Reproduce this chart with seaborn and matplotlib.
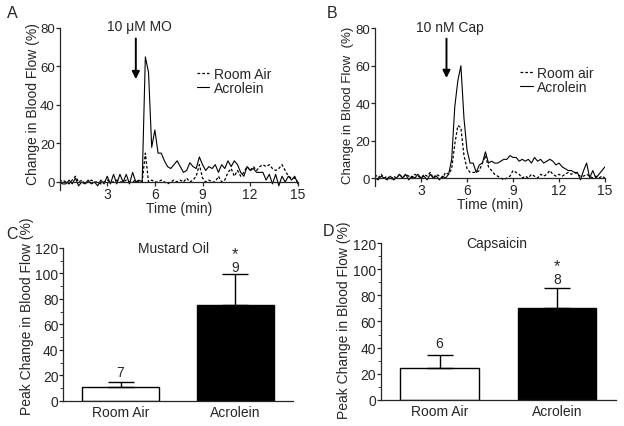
import numpy as np
import pandas as pd
import matplotlib
matplotlib.use("Agg")
import matplotlib.pyplot as plt
import seaborn as sns

# Curvas temporales (min, % de cambio), leidas a ojo de la figura
tiempo = [0.0, 0.2, 0.4, 0.6, 0.8, 1.0, 1.2, 1.4, 1.6, 1.8, 2.0, 2.2, 2.4, 2.6, 2.8,
          3.0, 3.2, 3.4, 3.6, 3.8, 4.0, 4.2, 4.4, 4.6, 4.8, 5.0, 5.2, 5.4, 5.6, 5.8,
          6.0, 6.2, 6.4, 6.6, 6.8, 7.0, 7.2, 7.4, 7.6, 7.8, 8.0, 8.2, 8.4, 8.6, 8.8,
          9.0, 9.2, 9.4, 9.6, 9.8, 10.0, 10.2, 10.4, 10.6, 10.8, 11.0, 11.2, 11.4, 11.6, 11.8,
          12.0, 12.2, 12.4, 12.6, 12.8, 13.0, 13.2, 13.4, 13.6, 13.8, 14.0, 14.2, 14.4, 14.6, 14.8,
          15.0]

mo_acroleina = [0, -1, -1, 1, -1, 2, -2, 0, -1, 1, -1, 0, -2, 1, -1,
                3, -1, 4, -1, 4, 0, 4, -1, 5, 0, 1, 0, 65, 57, 18,
                27, 15, 15, 11, 8, 7, 9, 11, 8, 5, 6, 10, 8, 7, 13,
                9, 6, 8, 7, 9, 5, 9, 7, 11, 8, 11, 9, 5, 3, 8,
                6, 7, 5, 5, 5, 1, 4, -1, 4, -2, 3, 0, 3, 1, 3,
                -1]
mo_aire = [0, 1, 0, -1, 1, 3, 0, 1, -1, 0, 1, 0, 0, -1, 0,
           1, 0, 0, 1, 0, 0, 1, 0, 0, 1, 0, 0, 15, 0, 1,
           0, 0, 1, 0, -1, 0, 1, 0, 1, 0, 2, 0, 1, 3, 9,
           2, 0, 1, 0, 0, 3, 0, 1, 5, 7, 3, 6, 3, 5, 8,
           6, 8, 6, 8, 9, 8, 9, 7, 6, 7, 9, 6, 3, 2, 2,
           0]
cap_acroleina = [0, -1, 1, 0, -1, 1, -1, 0, 2, 0, 2, -1, 1, 0, 2,
                 0, 1, -1, 2, 0, 1, -1, 1, 0, 2, 10, 38, 52, 60, 32,
                 15, 8, 8, 3, 7, 8, 14, 8, 9, 8, 8, 9, 10, 10, 12,
                 11, 11, 9, 10, 9, 10, 8, 11, 9, 10, 8, 9, 10, 9, 7,
                 8, 6, 5, 4, 4, 3, 3, -1, 4, 8, 0, 4, 0, 2, 4,
                 6]
cap_aire = [2, 0, 2, 0, 1, -1, 1, 0, 2, 0, 2, 1, 0, 2, 1,
            0, 2, 1, 3, 0, 2, 1, 0, 3, 2, 5, 18, 28, 27, 12,
            5, 3, 3, 3, 4, 8, 12, 6, 4, 2, 1, 0, -1, 0, 1,
            4, 3, 2, 0, 1, 0, 2, 1, 0, 2, 1, 2, 4, 2, 1,
            2, 1, 2, 3, 2, 3, 2, 1, 1, 2, 1, 0, 1, 0, 1,
            0]

# Picos promedio (media + EEM) y n por grupo
grupos = ['Room Air', 'Acrolein']
pico_mo = [11, 75.5]
eem_mo = [3.5, 24]
n_mo = ['7', '9']
pico_cap = [24, 70.5]
eem_cap = [10, 15.5]
n_cap = ['6', '8']

sns.set_style("ticks")
plt.rcParams['font.family'] = ['Liberation Sans', 'DejaVu Sans']
plt.rcParams['font.size'] = 10
plt.rcParams['axes.linewidth'] = 0.9
plt.rcParams['xtick.major.width'] = 0.9
plt.rcParams['ytick.major.width'] = 0.9

fig = plt.figure(figsize=(6.24, 4.27), dpi=100)

ax_a = fig.add_axes([0.0954, 0.5534, 0.382, 0.3787])
ax_b = fig.add_axes([0.601, 0.5632, 0.3686, 0.368])
ax_c = fig.add_axes([0.1014, 0.0593, 0.3676, 0.3576])
ax_d = fig.add_axes([0.6101, 0.0616, 0.377, 0.3663])

punteado = (0, (2.2, 1.6))


def panel_tiempo(ax, aire, acro, etiqueta_aire, texto, x_flecha, leg_x, ylab,
                 ylab_xy, ylab_fs):
    sns.lineplot(x=tiempo, y=aire, ax=ax, color='black', lw=0.9,
                 linestyle=punteado, label=etiqueta_aire)
    sns.lineplot(x=tiempo, y=acro, ax=ax, color='black', lw=0.8,
                 label='Acrolein')
    ax.set_xlim(0, 15)
    ax.set_ylim(-4, 80)
    ax.spines['bottom'].set_position(('data', 0))
    ax.spines['top'].set_visible(False)
    ax.spines['right'].set_visible(False)
    ax.set_xticks([3, 6, 9, 12, 15])
    ax.set_yticks([0, 20, 40, 60, 80])
    ax.tick_params(axis='x', length=3, labelsize=10, pad=0.5)
    ax.tick_params(axis='y', length=3, labelsize=9.5, pad=0.5)
    ax.set_xlabel('Time (min)', fontsize=10, labelpad=0)
    ax.set_ylabel(ylab, fontsize=ylab_fs, va='center')
    ax.yaxis.set_label_coords(*ylab_xy)
    ax.annotate('', xy=(x_flecha, 52), xytext=(x_flecha, 76),
                arrowprops=dict(arrowstyle='-|>', color='black', lw=1.4,
                                mutation_scale=11), annotation_clip=False)
    ax.text(x_flecha + 0.2, 81, texto, ha='center', va='center', fontsize=10,
            clip_on=False)
    ax.legend(loc='center left', bbox_to_anchor=(leg_x, 0.67), frameon=False,
              handlelength=0.9, handletextpad=0.3, labelspacing=0.0,
              fontsize=10, borderaxespad=0)


panel_tiempo(ax_a, mo_aire, mo_acroleina, 'Room Air', '10 \u03bcM MO', 4.8, 0.553,
             'Change in Blood Flow (%)', (-0.112, 0.536), 10)
panel_tiempo(ax_b, cap_aire, cap_acroleina, 'Room air', '10 nM Cap', 4.66, 0.6065,
             'Change in Blood Flow  (%)', (-0.118, 0.515), 9.5)


def panel_barras(ax, picos, eems, ns, titulo, y_n, y_star, x_tit, ylab_xy):
    df = pd.DataFrame({'grupo': grupos, 'pico': picos})
    sns.barplot(data=df, x='grupo', y='pico', hue='grupo',
                palette=['white', 'black'], edgecolor='black', linewidth=1.0,
                width=0.667, legend=False, ax=ax)
    ax.errorbar([0, 1], picos, yerr=[[0, 0], eems], fmt='none',
                ecolor='black', elinewidth=1.0, capsize=9.5, capthick=1.0)
    ax.set_xlim(-0.5, 1.5)
    ax.set_ylim(0, 120)
    ax.set_yticks([0, 20, 40, 60, 80, 100, 120])
    ax.set_yticks(np.arange(10, 120, 20), minor=True)
    ax.tick_params(axis='y', which='major', length=3, labelsize=10, pad=0.5)
    ax.tick_params(axis='y', which='minor', length=2)
    ax.tick_params(axis='x', length=0, labelsize=10, pad=3)
    ax.set_xlabel('')
    ax.set_ylabel('Peak Change in Blood Flow (%)', fontsize=10, va='center')
    ax.yaxis.set_label_coords(*ylab_xy)
    sns.despine(ax=ax)
    for i in range(2):
        ax.text(i, y_n[i], ns[i], ha='center', va='center', fontsize=10)
    ax.text(1, y_star, '*', ha='center', va='center', fontsize=12)
    ax.text(x_tit, 120, titulo, ha='center', va='center', fontsize=10)


panel_barras(ax_c, pico_mo, eem_mo, n_mo, 'Mustard Oil', [22.6, 105], 115.5, 0.46,
             (-0.158, 0.558))
panel_barras(ax_d, pico_cap, eem_cap, n_cap, 'Capsaicin', [43.3, 92.3], 103, 0.49,
             (-0.157, 0.516))

for letra, x, y in [('A', 12, 13), ('B', 332, 13), ('C', 12, 235), ('D', 328, 231)]:
    fig.text(x / 624, 1 - y / 427, letra, fontsize=11.5, ha='center', va='center')

fig.savefig('out.png', dpi=100)
